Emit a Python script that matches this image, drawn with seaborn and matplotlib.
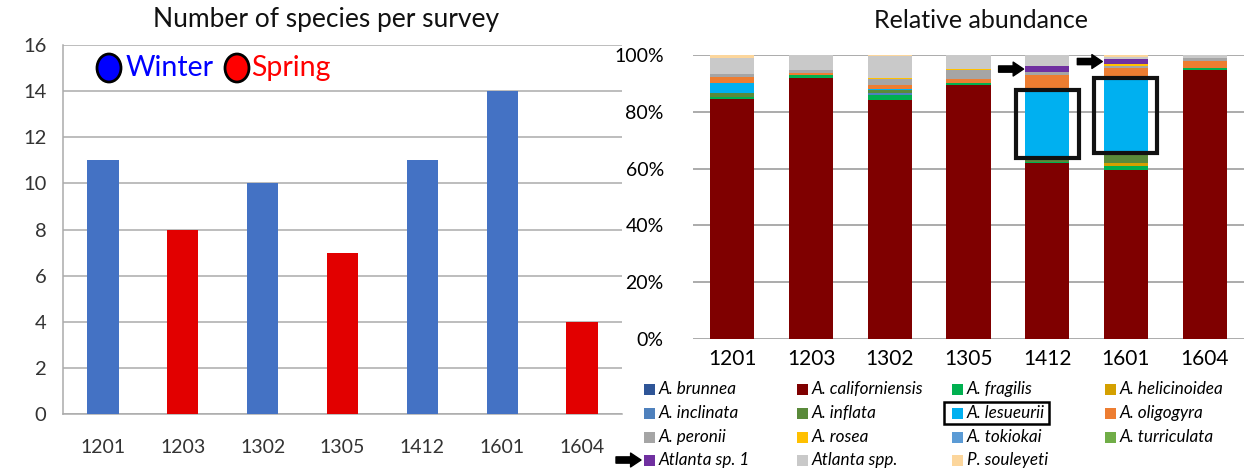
import matplotlib
matplotlib.use("Agg")
import matplotlib.pyplot as plt
from matplotlib.patches import Rectangle, Ellipse, FancyArrowPatch
import seaborn as sns
import pandas as pd
import numpy as np

# ---------------- data ----------------
surveys = ["1201", "1203", "1302", "1305", "1412", "1601", "1604"]
n_species = [11, 8, 10, 7, 11, 14, 4]
season = ["Winter", "Spring", "Winter", "Spring", "Winter", "Winter", "Spring"]

species = ["A. brunnea", "A. californiensis", "A. fragilis", "A. helicinoidea",
           "A. inclinata", "A. inflata", "A. lesueurii", "A. oligogyra",
           "A. peronii", "A. rosea", "A. tokiokai", "A. turriculata",
           "Atlanta sp. 1", "Atlanta spp.", "P. souleyeti"]
brunnea        = [0.0, 0.0, 0.0, 0.0, 0.0, 0.0, 0.0]
californiensis = [84.4, 92.0, 84.2, 89.3, 62.0, 59.5, 94.7]
fragilis       = [0.7, 0.8, 1.85, 0.8, 0.3, 1.5, 0.7]
helicinoidea   = [0.0, 0.0, 0.0, 0.0, 0.0, 0.8, 0.0]
inclinata      = [0.0, 0.0, 0.45, 0.0, 0.0, 0.0, 0.0]
inflata        = [1.4, 0.0, 1.2, 0.0, 1.5, 3.7, 0.0]
lesueurii      = [3.5, 0.0, 0.35, 0.0, 23.9, 26.4, 0.0]
oligogyra      = [2.4, 0.8, 1.4, 1.4, 5.4, 3.5, 2.5]
peronii        = [1.0, 1.1, 2.1, 3.2, 0.8, 0.9, 0.9]
rosea          = [0.0, 0.0, 0.3, 0.2, 0.0, 0.6, 0.0]
tokiokai       = [0.0, 0.0, 0.0, 0.0, 0.0, 0.0, 0.0]
turriculata    = [0.0, 0.0, 0.0, 0.0, 0.0, 0.0, 0.0]
atlanta_sp1    = [0.0, 0.0, 0.0, 0.0, 2.3, 1.6, 0.0]
atlanta_spp    = [5.6, 5.3, 7.95, 5.1, 3.8, 0.7, 1.2]
souleyeti      = [1.0, 0.0, 0.2, 0.0, 0.0, 0.8, 0.0]

abund = [brunnea, californiensis, fragilis, helicinoidea, inclinata, inflata,
         lesueurii, oligogyra, peronii, rosea, tokiokai, turriculata,
         atlanta_sp1, atlanta_spp, souleyeti]
colors = ["#2F5597", "#7F0000", "#00B050", "#D4A000", "#4F81BD", "#5A8A3A",
          "#00B0F0", "#ED7D31", "#A5A5A5", "#FFC000", "#5B9BD5", "#70AD47",
          "#7030A0", "#C9C9C9", "#FCD69C"]
season_colors = {"Winter": "#4472C4", "Spring": "#E20000"}

# ---------------- style ----------------
sns.set_style("white")
plt.rcParams["font.family"] = ["Lato", "DejaVu Sans"]

W, H = 1244, 470
fig = plt.figure(figsize=(W / 100, H / 100), dpi=100)

def fx(x):
    return x / W

def fy(y):
    return 1 - y / H

grid_c = "#ABABAB"

# ---------------- left chart ----------------
ax1 = fig.add_axes([fx(63), fy(414), fx(622) - fx(63), fy(45) - fy(414)])
df1 = pd.DataFrame({"survey": surveys, "n": n_species, "season": season})
sns.barplot(data=df1, x="survey", y="n", hue="season", order=surveys,
            palette=season_colors, dodge=False, width=0.39, saturation=1,
            errorbar=None, legend=False, ax=ax1, zorder=3, linewidth=0)
ax1.set_xlim(-0.5, 6.5)
ax1.set_ylim(0, 16)
ax1.set_yticks(np.arange(0, 17, 2))
ax1.set_xlabel("")
ax1.set_ylabel("")
ax1.yaxis.grid(True, color=grid_c, lw=1.1, zorder=0)
ax1.set_axisbelow(True)
for s in ["top", "right"]:
    ax1.spines[s].set_visible(False)
for s in ["left", "bottom"]:
    ax1.spines[s].set_color(grid_c)
    ax1.spines[s].set_linewidth(1.1)
ax1.set_xticks(np.arange(-0.5, 7, 1), minor=True)
ax1.tick_params(axis="x", which="major", length=0, pad=18, labelsize=14,
                labelcolor="#333333")
ax1.tick_params(axis="x", which="minor", length=6, width=1.1, color=grid_c,
                direction="out")
ax1.tick_params(axis="y", length=6, width=1.1, color=grid_c, pad=6,
                labelsize=14.5, labelcolor="#333333")

fig.text(fx(326), fy(20), "Number of species per survey", ha="center",
         va="center", fontsize=19, color="#111111")
# season legend (circles)
fig.add_artist(Ellipse((fx(109), fy(68)), fx(24), 28 / H, transform=fig.transFigure,
                       facecolor="#0000FF", edgecolor="black", lw=2))
fig.text(fx(126), fy(68), "Winter", color="#0000FF", fontsize=20.5,
         ha="left", va="center")
fig.add_artist(Ellipse((fx(237), fy(68)), fx(24), 28 / H, transform=fig.transFigure,
                       facecolor="#FF0000", edgecolor="black", lw=2))
fig.text(fx(251), fy(68), "Spring", color="#FF0000", fontsize=20.5,
         ha="left", va="center")

# ---------------- right chart ----------------
ax2 = fig.add_axes([fx(693), fy(339), 1 - fx(693), fy(55) - fy(339)])
cum = np.cumsum(np.array(abund), axis=0)
# draw cumulative totals from top-most species downward
for k in range(len(species) - 1, -1, -1):
    sns.barplot(x=surveys, y=cum[k], order=surveys, color=colors[k],
                width=0.56, saturation=1, errorbar=None, ax=ax2, zorder=3,
                linewidth=0)
ax2.set_xlim(-0.5, 6.5)
ax2.set_ylim(0, 100)
ax2.set_yticks(np.arange(0, 101, 20))
ax2.set_yticklabels([f"{v}%" for v in range(0, 101, 20)])
ax2.set_xlabel("")
ax2.set_ylabel("")
ax2.yaxis.grid(True, color=grid_c, lw=1.4, zorder=0)
ax2.set_axisbelow(True)
sns.despine(ax=ax2, left=True, bottom=True)
ax2.tick_params(axis="y", length=0, pad=21, labelsize=14, labelcolor="black")
ax2.tick_params(axis="x", length=0, pad=7, labelsize=15, labelcolor="black")
fig.text(fx(981), fy(20), "Relative abundance", ha="center", va="center",
         fontsize=18, color="#111111")

# highlight boxes around A. lesueurii segments
les = species.index("A. lesueurii")
for i in (4, 5):
    bottom = cum[les - 1][i]
    top = cum[les][i]
    ax2.add_patch(Rectangle((i - 0.4, bottom), 0.8, top - bottom, fill=False,
                            edgecolor="#111111", lw=3, zorder=6, clip_on=False))

# arrows pointing at Atlanta sp. 1
sp1 = species.index("Atlanta sp. 1")
arrow_style = "simple,head_length=0.75,head_width=1.0,tail_width=0.45"
for i in (4, 5):
    yc = (cum[sp1 - 1][i] + cum[sp1][i]) / 2
    ax2.annotate("", xy=(i - 0.30, yc), xycoords="data",
                 xytext=(-25, 0), textcoords="offset pixels",
                 arrowprops=dict(arrowstyle=arrow_style, color="black",
                                 mutation_scale=10, shrinkA=0, shrinkB=0),
                 annotation_clip=False, zorder=7)

# ---------------- species legend ----------------
row_y = [389, 413, 437, 460]
col_x = [644, 797, 952, 1105]
for idx, name in enumerate(species):
    r, c = divmod(idx, 4)
    x0, y0 = col_x[c], row_y[r]
    fig.add_artist(Rectangle((fx(x0), fy(y0 + 5.5)), fx(11), 11 / H,
                             transform=fig.transFigure, facecolor=colors[idx],
                             edgecolor="none"))
    fig.text(fx(x0 + 15), fy(y0), name, fontsize=12.3, style="italic",
             ha="left", va="center", color="black")
# box around A. lesueurii legend entry
fig.add_artist(Rectangle((fx(944), fy(424)), fx(1049) - fx(944), 22 / H,
                         transform=fig.transFigure, fill=False,
                         edgecolor="black", lw=1.8))
# arrow at Atlanta sp. 1 legend entry
fig.add_artist(FancyArrowPatch(
    (fx(616), fy(460)), (fx(641), fy(460)), transform=fig.transFigure,
    arrowstyle=arrow_style, mutation_scale=10, color="black",
    shrinkA=0, shrinkB=0))

fig.savefig("out.png", dpi=100)
